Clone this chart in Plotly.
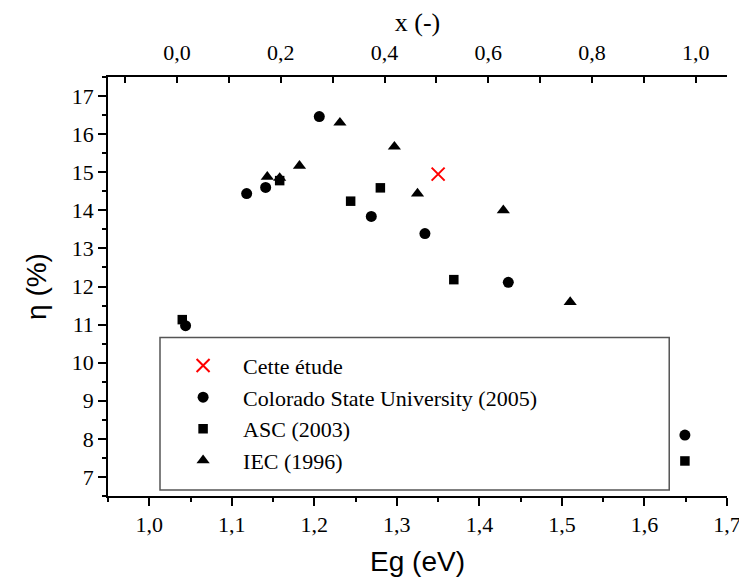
import plotly.graph_objects as go

# ---- data ----
cette_eg = [1.35]
cette_eta = [14.95]

csu_eg = [1.044, 1.118, 1.141, 1.206, 1.269, 1.334, 1.435, 1.649]
csu_eta = [10.97, 14.44, 14.60, 16.46, 13.84, 13.39, 12.11, 8.10]

asc_eg = [1.040, 1.158, 1.244, 1.280, 1.369, 1.649]
asc_eta = [11.13, 14.78, 14.24, 14.59, 12.18, 7.42]

iec_eg = [1.143, 1.158, 1.182, 1.231, 1.297, 1.325, 1.429, 1.510]
iec_eta = [14.88, 14.85, 15.17, 16.30, 15.67, 14.44, 14.00, 11.59]

x_comp_ticks = [0.0, 0.2, 0.4, 0.6, 0.8, 1.0]

names = ["Cette étude", "Colorado State University (2005)", "ASC (2003)", "IEC (1996)"]

SERIF = "Liberation Serif, Times New Roman, serif"
SANS = "Liberation Sans, Arial, sans-serif"

fig = go.Figure()
fig.add_trace(go.Scatter(x=cette_eg, y=cette_eta, mode="markers", name=names[0],
                         marker=dict(symbol="x-thin", size=13, color="red",
                                     line=dict(color="red", width=2))))
fig.add_trace(go.Scatter(x=csu_eg, y=csu_eta, mode="markers", name=names[1],
                         marker=dict(symbol="circle", size=11, color="black")))
fig.add_trace(go.Scatter(x=asc_eg, y=asc_eta, mode="markers", name=names[2],
                         marker=dict(symbol="square", size=9.5, color="black")))
fig.add_trace(go.Scatter(x=iec_eg, y=iec_eta, mode="markers", name=names[3],
                         marker=dict(symbol="triangle-up", size=11.5, color="black")))
# carrier trace so that the top composition axis is drawn
fig.add_trace(go.Scatter(x=x_comp_ticks, y=[None] * len(x_comp_ticks), xaxis="x2", yaxis="y",
                         mode="markers", showlegend=False, hoverinfo="skip",
                         marker=dict(opacity=0)))

# legend box
fig.add_shape(type="rect", xref="x", yref="y", x0=1.013, x1=1.630, y0=6.66, y1=10.66,
              line=dict(color="#555555", width=1.5), fillcolor="white", layer="below")

fig.update_layout(
    width=747, height=581,
    margin=dict(l=100, r=28, t=69, b=93),
    paper_bgcolor="white", plot_bgcolor="white",
    separators=", ",
    font=dict(family=SERIF, size=20, color="black"),
    showlegend=True,
    legend=dict(x=0.089, y=0.361, xanchor="left", yanchor="top",
                bgcolor="rgba(0,0,0,0)", borderwidth=0,
                font=dict(family=SERIF, size=22, color="black"),
                itemwidth=70, tracegroupgap=0),
    xaxis=dict(range=[0.95, 1.70], dtick=0.1, tick0=1.0, tickformat=".1f", automargin=False,
               showgrid=False, zeroline=False, showline=True, linecolor="black", linewidth=1.5,
               ticks="outside", ticklen=8, tickwidth=1.5, tickcolor="black",
               minor=dict(dtick=0.05, ticks="outside", ticklen=4, tickwidth=1.5, tickcolor="black"),
               tickfont=dict(family=SERIF, size=22),
               title=dict(text="Eg (eV)", font=dict(family=SANS, size=28), standoff=15)),
    xaxis2=dict(overlaying="x", side="top", range=[-0.133, 1.06], dtick=0.2, tick0=0,
                tickformat=".1f", showgrid=False, zeroline=False, showline=True, automargin=False,
                linecolor="black", linewidth=1.5,
                ticks="inside", ticklen=6, tickwidth=1.5, tickcolor="black",
                minor=dict(dtick=0.1, ticks="inside", ticklen=6, tickwidth=1.5, tickcolor="black"),
                tickfont=dict(family=SERIF, size=22), ticklabelstandoff=6,
                title=dict(text="x (-)", font=dict(family=SERIF, size=26), standoff=6)),
    yaxis=dict(range=[6.5, 17.5], dtick=1, tick0=7, showgrid=False, zeroline=False,
               showline=True, linecolor="black", linewidth=1.5, automargin=False,
               ticks="outside", ticklen=8, tickwidth=1.5, tickcolor="black",
               minor=dict(dtick=0.5, ticks="outside", ticklen=4, tickwidth=1.5, tickcolor="black"),
               tickfont=dict(family=SERIF, size=22),
               title=dict(text="η (%)", font=dict(family=SANS, size=28), standoff=17)),
)

fig.write_html("out.html")
